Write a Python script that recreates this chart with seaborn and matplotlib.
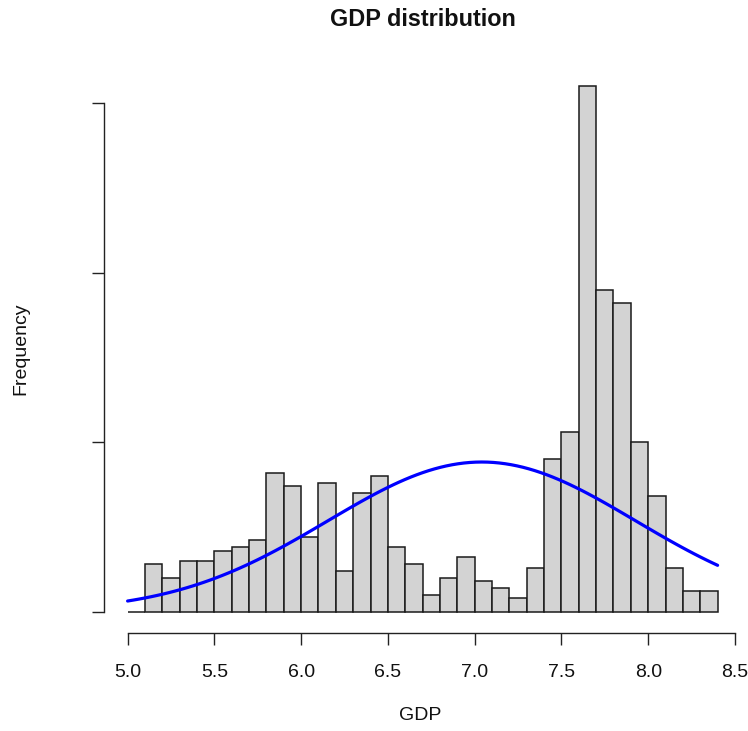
import numpy as np
import pandas as pd
import matplotlib
matplotlib.use("Agg")
import matplotlib.pyplot as plt
import seaborn as sns

# Histogram bins (width 0.1) and counts per bin
bin_edges = [round(5.0 + 0.1 * i, 1) for i in range(35)]
bin_counts = [0, 14, 10, 15, 15, 18, 19, 21, 41, 37, 22, 38, 12, 35, 40, 19, 14,
              5, 10, 16, 9, 7, 4, 13, 45, 53, 155, 95, 91, 50, 34, 13, 6, 6]
x_ticks = [5.0, 5.5, 6.0, 6.5, 7.0, 7.5, 8.0, 8.5]
x_tick_labels = ["5.0", "5.5", "6.0", "6.5", "7.0", "7.5", "8.0", "8.5"]
y_ticks = [0, 50, 100, 150]

title = "GDP distribution"
x_label = "GDP"
y_label = "Frequency"

sns.set_style("ticks")
plt.rcParams["font.family"] = ["Liberation Sans", "DejaVu Sans"]

edges = np.array(bin_edges)
counts = np.array(bin_counts, dtype=float)
centers = (edges[:-1] + edges[1:]) / 2
df = pd.DataFrame({"GDP": centers, "count": counts})

W, H, DPI = 748, 731, 100
fig = plt.figure(figsize=(W / DPI, H / DPI), dpi=DPI)
# plot region in pixels: x 104..741, y 65..633 (from top)
left, right, top, bottom = 104.0, 741.2, 65.0, 632.7
ax = fig.add_axes([left / W, (H - bottom) / H, (right - left) / W, (bottom - top) / H])

sns.histplot(data=df, x="GDP", weights="count", bins=list(bin_edges), stat="count",
             color="#D3D3D3", edgecolor="#1a1a1a", linewidth=1.1, alpha=1.0, ax=ax)

# Normal curve with the sample mean and sd, scaled to counts per bin
n = counts.sum()
width = edges[1] - edges[0]
mean = np.sum(centers * counts) / n
sd = np.sqrt(np.sum(counts * (centers - mean) ** 2) / (n - 1))
xs = np.linspace(edges[0], edges[-1], 101)
ys = n * width * np.exp(-0.5 * ((xs - mean) / sd) ** 2) / (sd * np.sqrt(2 * np.pi))
sns.lineplot(x=xs, y=ys, color="#0000FF", linewidth=2.3, ax=ax)

xr = edges[-1] - edges[0]
ax.set_xlim(edges[0] - 0.04 * xr, edges[-1] + 0.04 * xr)
ymax = counts.max()
ax.set_ylim(-0.04 * ymax, ymax * 1.04)

ax.set_xticks(x_ticks)
ax.set_xticklabels(x_tick_labels)
ax.set_yticks(y_ticks)
ax.set_yticklabels([])

for side in ("top", "right"):
    ax.spines[side].set_visible(False)
ax.spines["left"].set_bounds(y_ticks[0], y_ticks[-1])
ax.spines["bottom"].set_bounds(x_ticks[0], x_ticks[-1])
for side in ("left", "bottom"):
    ax.spines[side].set_linewidth(1.0)
    ax.spines[side].set_color("#222222")

ax.tick_params(axis="both", direction="out", length=8.6, width=1.0,
               color="#222222", labelsize=14, labelcolor="#111111")
ax.tick_params(axis="x", pad=14)

ax.set_xlabel(x_label, fontsize=14, color="#111111")
ax.set_ylabel(y_label, fontsize=14, color="#111111")
ax.xaxis.set_label_coords((420.5 - left) / (right - left), -(716 - bottom) / (bottom - top))
ax.xaxis.label.set_va("center")
ax.yaxis.set_label_coords(-(left - 21) / (right - left), (bottom - 349) / (bottom - top))
ax.yaxis.label.set_va("center")

ax.set_title(title, fontsize=16.8, fontweight="bold", color="#111111",
             y=1 + (top - 19.6) / (bottom - top), va="center", pad=0)

fig.savefig("out.png", dpi=DPI)
